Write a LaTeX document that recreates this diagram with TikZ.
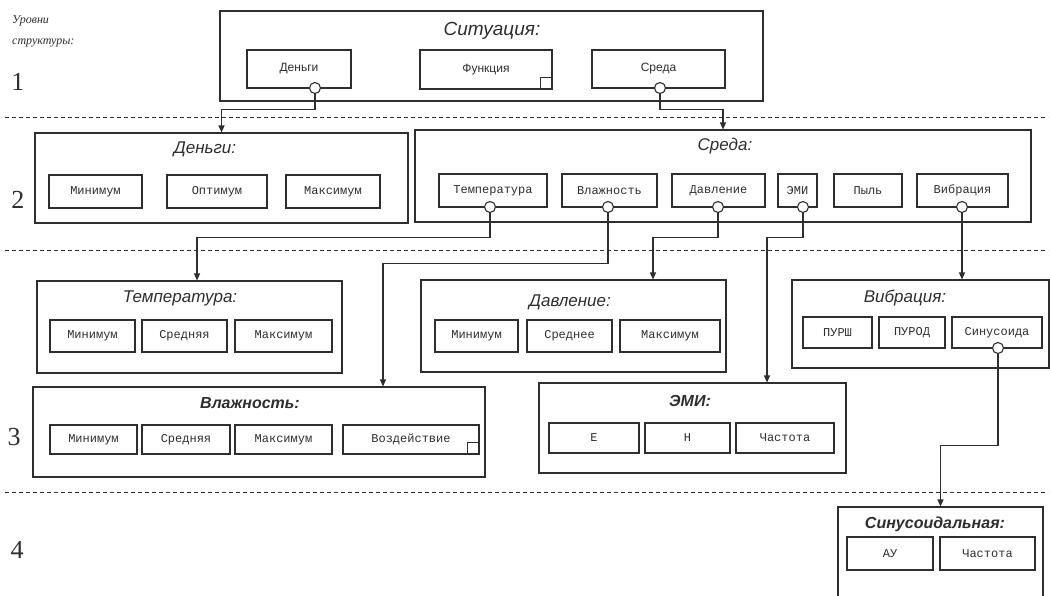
\documentclass[tikz,border=0pt]{standalone}
\usepackage{fontspec}
\setmainfont{Liberation Serif}
\newfontfamily\sansf{Liberation Sans}
\newfontfamily\monof{Liberation Mono}
\usetikzlibrary{arrows.meta}
\definecolor{ink}{HTML}{2E2E2E}
\begin{document}
\begin{tikzpicture}[x=1pt,y=-1pt,
 outerbox/.style={draw=ink,line width=1.1pt,inner sep=0pt},
 itembox/.style={draw=ink,line width=1.1pt,inner sep=0pt,text=ink,font=\monof\fontsize{12}{14}\selectfont},
 topitem/.style={draw=ink,line width=1.1pt,inner sep=0pt,text=ink,font=\sansf\fontsize{12}{14}\selectfont},
 ttl/.style={inner sep=0pt,text=ink,font=\sansf\itshape\fontsize{17}{19}\selectfont},
 lvl/.style={inner sep=0pt,text=ink,font=\fontsize{26}{28}\selectfont},
 lvltxt/.style={inner sep=0pt,anchor=west,text=ink,font=\itshape\fontsize{12}{14}\selectfont},
 port/.style={circle,draw=ink,fill=white,line width=1.1pt,minimum size=11pt,inner sep=0pt},
 conn/.style={draw=ink,line width=1.1pt,-{Triangle[length=7pt,width=6pt]}},
 levelline/.style={draw=ink,line width=0.9pt,dash pattern=on 4pt off 3pt},
 corner/.style={draw=ink,line width=1pt,minimum size=12pt,inner sep=0pt,anchor=south east}]
\useasboundingbox (0,0) rectangle (1050,595);
\fill[white] (0,0) rectangle (1050,595);
\clip (0,0) rectangle (1050,595);

% level labels
\node[lvltxt] (lvA) at (12,21) {Уровни};
\node[lvltxt] (lvB) at (12,43) {структуры:};
\node[lvl] (l1) at (18,82) {1};
\node[lvl] (l2) at (18,200) {2};
\node[lvl] (l3) at (14,437) {3};
\node[lvl] (l4) at (17,550) {4};

% level separators
\coordinate (d1a) at (5,117); \coordinate (d1b) at (1048,117);
\coordinate (d2a) at (5,250); \coordinate (d2b) at (1048,250);
\coordinate (d3a) at (5,492); \coordinate (d3b) at (1048,492);
\draw[levelline] (d1a) -- (d1b);
\draw[levelline] (d2a) -- (d2b);
\draw[levelline] (d3a) -- (d3b);

% ---------- level 1
\node[outerbox,minimum width=543pt,minimum height=90pt] (sit) at (491.5,56) {};
\node[ttl,font=\sansf\itshape\fontsize{19}{21}\selectfont] (sitT) at (492,31) {Ситуация:};
\node[topitem,minimum width=104pt,minimum height=38pt] (den1) at (299,69) {Деньги};
\node[topitem,minimum width=132pt,minimum height=39pt] (fun1) at (486,69.5) {Функция};
\node[corner] (funC) at (fun1.south east) {};
\node[topitem,minimum width=133pt,minimum height=38pt] (sre1) at (658.5,69) {Среда};
\node[port] (pDen1) at (315,88) {};
\node[port] (pSre1) at (660,88) {};

% ---------- level 2
\node[outerbox,minimum width=373pt,minimum height=90pt] (den2) at (221.5,178) {};
\node[ttl] (den2T) at (205,149) {Деньги:};
\node[itembox,minimum width=93pt,minimum height=33pt] (den2a) at (95.5,191.5) {Минимум};
\node[itembox,minimum width=100pt,minimum height=33pt] (den2b) at (217,191.5) {Оптимум};
\node[itembox,minimum width=94pt,minimum height=33pt] (den2c) at (333,191.5) {Максимум};

\node[outerbox,minimum width=616pt,minimum height=92pt] (sre2) at (723,176) {};
\node[ttl] (sre2T) at (725,146) {Среда:};
\node[itembox,minimum width=108pt,minimum height=33pt] (sT) at (493,190.5) {Температура};
\node[itembox,minimum width=95pt,minimum height=33pt] (sV) at (609.5,190.5) {Влажность};
\node[itembox,minimum width=93pt,minimum height=33pt] (sD) at (718.5,190.5) {Давление};
\node[itembox,minimum width=39pt,minimum height=33pt] (sE) at (797.5,190.5) {ЭМИ};
\node[itembox,minimum width=68pt,minimum height=33pt] (sP) at (868,190.5) {Пыль};
\node[itembox,minimum width=91pt,minimum height=33pt] (sW) at (962.5,190.5) {Вибрация};
\node[port] (pT) at (490,207) {};
\node[port] (pV) at (608,207) {};
\node[port] (pD) at (718,207) {};
\node[port] (pE) at (803,207) {};
\node[port] (pW) at (962,207) {};

% ---------- level 3
\node[outerbox,minimum width=305pt,minimum height=92pt] (tem3) at (189.5,327) {};
\node[ttl] (tem3T) at (180,298) {Температура:};
\node[itembox,minimum width=85pt,minimum height=32pt] (tem3a) at (92.5,336) {Минимум};
\node[itembox,minimum width=85pt,minimum height=32pt] (tem3b) at (184.5,336) {Средняя};
\node[itembox,minimum width=97pt,minimum height=32pt] (tem3c) at (283.5,336) {Максимум};

\node[outerbox,minimum width=452pt,minimum height=90pt] (vla3) at (259,432) {};
\node[ttl,font=\sansf\bfseries\itshape\fontsize{16}{18}\selectfont] (vla3T) at (250,403) {Влажность:};
\node[itembox,minimum width=87pt,minimum height=29pt] (vla3a) at (93.5,439.5) {Минимум};
\node[itembox,minimum width=88pt,minimum height=29pt] (vla3b) at (186,439.5) {Средняя};
\node[itembox,minimum width=97pt,minimum height=29pt] (vla3c) at (283.5,439.5) {Максимум};
\node[itembox,minimum width=136pt,minimum height=29pt] (vla3d) at (411,439.5) {Воздействие};
\node[corner] (vlaC) at (vla3d.south east) {};

\node[outerbox,minimum width=305pt,minimum height=92pt] (dav3) at (573.5,326) {};
\node[ttl] (dav3T) at (570,302) {Давление:};
\node[itembox,minimum width=83pt,minimum height=32pt] (dav3a) at (476.5,336) {Минимум};
\node[itembox,minimum width=85pt,minimum height=32pt] (dav3b) at (569.5,336) {Среднее};
\node[itembox,minimum width=100pt,minimum height=32pt] (dav3c) at (670,336) {Максимум};

\node[outerbox,minimum width=307pt,minimum height=90pt] (emi3) at (692.5,428) {};
\node[ttl,font=\sansf\bfseries\itshape\fontsize{16}{18}\selectfont] (emi3T) at (690,401) {ЭМИ:};
\node[itembox,minimum width=90pt,minimum height=30pt] (emi3a) at (594,438) {Е};
\node[itembox,minimum width=85pt,minimum height=30pt] (emi3b) at (687.5,438) {Н};
\node[itembox,minimum width=98pt,minimum height=30pt] (emi3c) at (785,438) {Частота};

\node[outerbox,minimum width=257pt,minimum height=88pt] (vib3) at (920.5,324) {};
\node[ttl] (vib3T) at (905,298) {Вибрация:};
\node[itembox,minimum width=69pt,minimum height=31pt] (vib3a) at (837.5,332.5) {ПУРШ};
\node[itembox,minimum width=66pt,minimum height=31pt] (vib3b) at (912,332.5) {ПУРОД};
\node[itembox,minimum width=90pt,minimum height=31pt] (vib3c) at (997,332.5) {Синусоида};
\node[port] (pS) at (998,348) {};

% ---------- level 4
\node[outerbox,minimum width=205pt,minimum height=113pt] (sin4) at (940.5,563.5) {};
\node[ttl,font=\sansf\bfseries\itshape\fontsize{16}{18}\selectfont] (sin4T) at (935,524) {Синусоидальная:};
\node[itembox,minimum width=86pt,minimum height=33pt] (sin4a) at (890,553.5) {АУ};
\node[itembox,minimum width=95pt,minimum height=33pt] (sin4b) at (987.5,553.5) {Частота};

% ---------- connectors
\draw[conn] (pDen1.south) -- ++(0,15) -| (den2.north);
\draw[conn] (pSre1.south) -- ++(0,15) -| (sre2.north);
\draw[conn] (pT.south) -- ++(0,24.5) -| ([xshift=7.5pt]tem3.north);
\draw[conn] (pV.south) -- ++(0,50.5) -| ([xshift=124pt]vla3.north);
\draw[conn] (pD.south) -- ++(0,24.5) -| ([xshift=79.5pt]dav3.north);
\draw[conn] (pE.south) -- ++(0,24.5) -| ([xshift=74.5pt]emi3.north);
\draw[conn] (pW.south) -- (pW.south |- vib3.north);
\draw[conn] (pS.south) -- ++(0,91.5) -| (sin4.north);
\end{tikzpicture}
\end{document}
